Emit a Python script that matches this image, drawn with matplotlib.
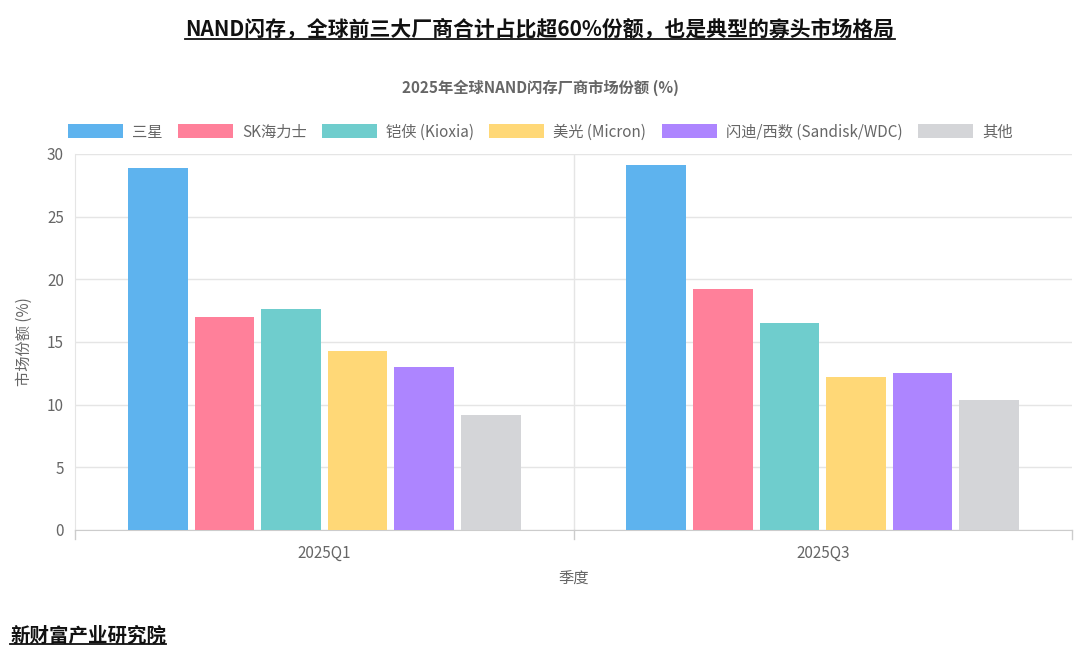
import matplotlib
matplotlib.use("Agg")
import matplotlib.pyplot as plt
from matplotlib.patches import Patch
from matplotlib.lines import Line2D
import numpy as np

plt.rcParams['font.family'] = ['Noto Sans CJK SC', 'DejaVu Sans']

# === Données ===
quarters = ["2025Q1", "2025Q3"]
vendors = ["三星", "SK海力士", "铠侠 (Kioxia)", "美光 (Micron)", "闪迪/西数 (Sandisk/WDC)", "其他"]
shares = {
    "三星": [28.9, 29.1],
    "SK海力士": [17.0, 19.2],
    "铠侠 (Kioxia)": [17.6, 16.5],
    "美光 (Micron)": [14.3, 12.2],
    "闪迪/西数 (Sandisk/WDC)": [13.0, 12.5],
    "其他": [9.2, 10.4],
}
colors = ["#5EB3EE", "#FF809A", "#6FCDCD", "#FFD877", "#AD85FF", "#D4D5D8"]

W, H = 1080, 662
fig = plt.figure(figsize=(W / 100, H / 100), dpi=100)
ax = fig.add_axes([75 / W, 1 - 530 / H, (1072 - 75) / W, (530 - 154) / H])

x = np.arange(len(quarters))
step = 0.1335
width = 0.12
for i, (v, c) in enumerate(zip(vendors, colors)):
    ax.bar(x + (i - 2.5) * step, shares[v], width=width, color=c, zorder=3)

ax.set_xlim(-0.5, 1.5)
ax.set_ylim(0, 30)
ax.set_yticks(range(0, 31, 5))
ax.set_xticks(x)
ax.set_xticklabels(quarters)
ax.grid(axis="y", color="#E5E5E5", lw=1, zorder=0)
ax.axvline(0.5, color="#E5E5E5", lw=1, zorder=0)
for s in ["top", "right"]:
    ax.spines[s].set_visible(False)
ax.spines["left"].set_color("#E5E5E5")
ax.spines["bottom"].set_color("#CCCCCC")
ax.tick_params(axis="both", colors="#666666", labelsize=11, length=0, pad=8)
ax.tick_params(axis="x", pad=11)
for xv in [-0.5, 0.5, 1.5]:
    ax.add_line(Line2D([xv, xv], [0, -0.025], transform=ax.get_xaxis_transform(),
                       color="#CCCCCC", lw=1, clip_on=False))
ax.set_ylabel("市场份额 (%)", color="#666666", fontsize=11, labelpad=10)
ax.set_xlabel("季度", color="#666666", fontsize=11, labelpad=6)

handles = [Patch(facecolor=c, edgecolor="none") for c in colors]
fig.legend(handles, vendors, loc="center", bbox_to_anchor=(540 / W, 1 - 132 / H), ncol=6,
           frameon=False, fontsize=11, handlelength=3.6, handleheight=1.0,
           columnspacing=1.0, handletextpad=0.6, labelcolor="#666666")

fig.text(540 / W, 1 - 88 / H, "2025年全球NAND闪存厂商市场份额 (%)", ha="center", va="center",
         fontsize=11, fontweight="bold", color="#666666")

t1 = fig.text(540 / W, 1 - 30 / H, "NAND闪存，全球前三大厂商合计占比超60%份额，也是典型的寡头市场格局",
              ha="center", va="center", fontsize=15, fontweight="bold", color="#111111")
t2 = fig.text(10 / W, 1 - 636 / H, "新财富产业研究院", ha="left", va="center",
              fontsize=14, fontweight="bold", color="#111111")

fig.canvas.draw()
r = fig.canvas.get_renderer()
for t in (t1, t2):
    bb = t.get_window_extent(r).transformed(fig.transFigure.inverted())
    fig.add_artist(Line2D([bb.x0, bb.x1], [bb.y0 + 0.002, bb.y0 + 0.002],
                          transform=fig.transFigure, color="#111111", lw=1.3))

fig.savefig("out.png", dpi=100)
